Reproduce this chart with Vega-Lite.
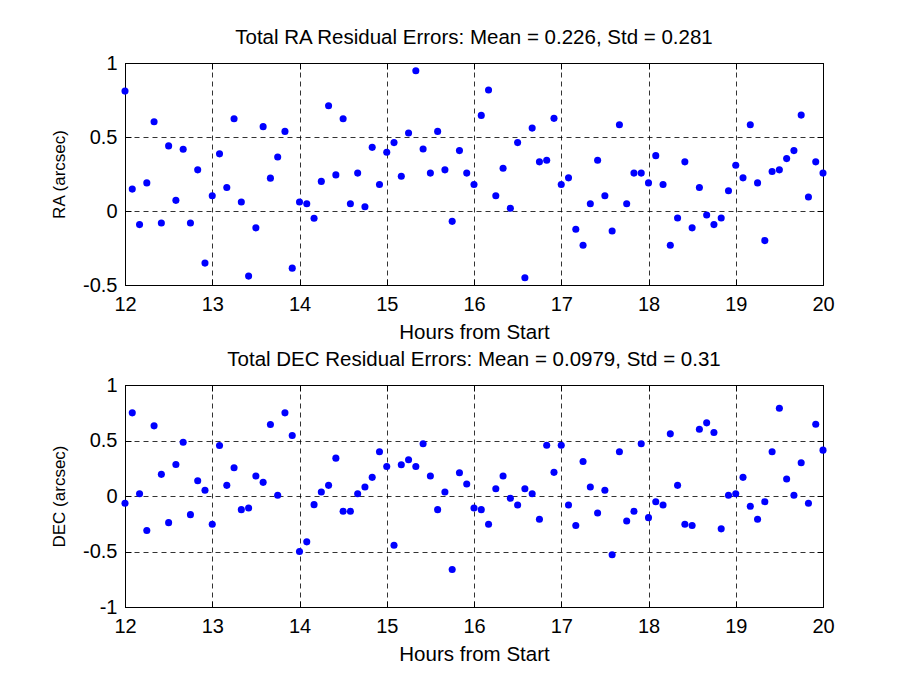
{
  "$schema": "https://vega.github.io/schema/vega-lite/v6.json",
  "padding": {"left": 50, "top": 27, "right": 5, "bottom": 5},
  "background": "white",
  "datasets": {
    "ra": [
      {"t": 12, "v": 0.81}, {"t": 12.0833, "v": 0.148}, {"t": 12.1667, "v": -0.092}, {"t": 12.25, "v": 0.19}, {"t": 12.3333, "v": 0.603}, {"t": 12.4167, "v": -0.081}, {"t": 12.5, "v": 0.44}, {"t": 12.5833, "v": 0.072}, {"t": 12.6667, "v": 0.417}, {"t": 12.75, "v": -0.081}, {"t": 12.8333, "v": 0.278}, {"t": 12.9167, "v": -0.352},
      {"t": 13, "v": 0.103}, {"t": 13.0833, "v": 0.386}, {"t": 13.1667, "v": 0.159}, {"t": 13.25, "v": 0.623}, {"t": 13.3333, "v": 0.061}, {"t": 13.4167, "v": -0.44}, {"t": 13.5, "v": -0.114}, {"t": 13.5833, "v": 0.57}, {"t": 13.6667, "v": 0.222}, {"t": 13.75, "v": 0.365}, {"t": 13.8333, "v": 0.538}, {"t": 13.9167, "v": -0.386},
      {"t": 14, "v": 0.061}, {"t": 14.0833, "v": 0.049}, {"t": 14.1667, "v": -0.049}, {"t": 14.25, "v": 0.2}, {"t": 14.3333, "v": 0.711}, {"t": 14.4167, "v": 0.244}, {"t": 14.5, "v": 0.623}, {"t": 14.5833, "v": 0.049}, {"t": 14.6667, "v": 0.256}, {"t": 14.75, "v": 0.029}, {"t": 14.8333, "v": 0.43}, {"t": 14.9167, "v": 0.179},
      {"t": 15, "v": 0.397}, {"t": 15.0833, "v": 0.462}, {"t": 15.1667, "v": 0.235}, {"t": 15.25, "v": 0.527}, {"t": 15.3333, "v": 0.948}, {"t": 15.4167, "v": 0.419}, {"t": 15.5, "v": 0.256}, {"t": 15.5833, "v": 0.538}, {"t": 15.6667, "v": 0.278}, {"t": 15.75, "v": -0.07}, {"t": 15.8333, "v": 0.408}, {"t": 15.9167, "v": 0.256},
      {"t": 16, "v": 0.179}, {"t": 16.0833, "v": 0.646}, {"t": 16.1667, "v": 0.818}, {"t": 16.25, "v": 0.103}, {"t": 16.3333, "v": 0.289}, {"t": 16.4167, "v": 0.018}, {"t": 16.5, "v": 0.462}, {"t": 16.5833, "v": -0.451}, {"t": 16.6667, "v": 0.56}, {"t": 16.75, "v": 0.332}, {"t": 16.8333, "v": 0.343}, {"t": 16.9167, "v": 0.626},
      {"t": 17, "v": 0.179}, {"t": 17.0833, "v": 0.224}, {"t": 17.1667, "v": -0.123}, {"t": 17.25, "v": -0.231}, {"t": 17.3333, "v": 0.049}, {"t": 17.4167, "v": 0.343}, {"t": 17.5, "v": 0.103}, {"t": 17.5833, "v": -0.135}, {"t": 17.6667, "v": 0.583}, {"t": 17.75, "v": 0.049}, {"t": 17.8333, "v": 0.256}, {"t": 17.9167, "v": 0.256},
      {"t": 18, "v": 0.19}, {"t": 18.0833, "v": 0.374}, {"t": 18.1667, "v": 0.179}, {"t": 18.25, "v": -0.231}, {"t": 18.3333, "v": -0.047}, {"t": 18.4167, "v": 0.332}, {"t": 18.5, "v": -0.114}, {"t": 18.5833, "v": 0.159}, {"t": 18.6667, "v": -0.027}, {"t": 18.75, "v": -0.092}, {"t": 18.8333, "v": -0.047}, {"t": 18.9167, "v": 0.137},
      {"t": 19, "v": 0.309}, {"t": 19.0833, "v": 0.224}, {"t": 19.1667, "v": 0.583}, {"t": 19.25, "v": 0.19}, {"t": 19.3333, "v": -0.2}, {"t": 19.4167, "v": 0.267}, {"t": 19.5, "v": 0.278}, {"t": 19.5833, "v": 0.354}, {"t": 19.6667, "v": 0.408}, {"t": 19.75, "v": 0.648}, {"t": 19.8333, "v": 0.094}, {"t": 19.9167, "v": 0.332},
      {"t": 20, "v": 0.256}
    ],
    "dec": [
      {"t": 12, "v": -0.066}, {"t": 12.0833, "v": 0.749}, {"t": 12.1667, "v": 0.021}, {"t": 12.25, "v": -0.311}, {"t": 12.3333, "v": 0.632}, {"t": 12.4167, "v": 0.195}, {"t": 12.5, "v": -0.24}, {"t": 12.5833, "v": 0.284}, {"t": 12.6667, "v": 0.485}, {"t": 12.75, "v": -0.168}, {"t": 12.8333, "v": 0.138}, {"t": 12.9167, "v": 0.051},
      {"t": 13, "v": -0.254}, {"t": 13.0833, "v": 0.455}, {"t": 13.1667, "v": 0.096}, {"t": 13.25, "v": 0.254}, {"t": 13.3333, "v": -0.123}, {"t": 13.4167, "v": -0.108}, {"t": 13.5, "v": 0.18}, {"t": 13.5833, "v": 0.123}, {"t": 13.6667, "v": 0.644}, {"t": 13.75, "v": 0.006}, {"t": 13.8333, "v": 0.749}, {"t": 13.9167, "v": 0.545},
      {"t": 14, "v": -0.5}, {"t": 14.0833, "v": -0.413}, {"t": 14.1667, "v": -0.078}, {"t": 14.25, "v": 0.036}, {"t": 14.3333, "v": 0.096}, {"t": 14.4167, "v": 0.341}, {"t": 14.5, "v": -0.138}, {"t": 14.5833, "v": -0.138}, {"t": 14.6667, "v": 0.021}, {"t": 14.75, "v": 0.081}, {"t": 14.8333, "v": 0.168}, {"t": 14.9167, "v": 0.398},
      {"t": 15, "v": 0.266}, {"t": 15.0833, "v": -0.443}, {"t": 15.1667, "v": 0.281}, {"t": 15.25, "v": 0.326}, {"t": 15.3333, "v": 0.266}, {"t": 15.4167, "v": 0.47}, {"t": 15.5, "v": 0.18}, {"t": 15.5833, "v": -0.123}, {"t": 15.6667, "v": 0.036}, {"t": 15.75, "v": -0.662}, {"t": 15.8333, "v": 0.21}, {"t": 15.9167, "v": 0.108},
      {"t": 16, "v": -0.108}, {"t": 16.0833, "v": -0.123}, {"t": 16.1667, "v": -0.254}, {"t": 16.25, "v": 0.066}, {"t": 16.3333, "v": 0.18}, {"t": 16.4167, "v": -0.021}, {"t": 16.5, "v": -0.081}, {"t": 16.5833, "v": 0.066}, {"t": 16.6667, "v": 0.021}, {"t": 16.75, "v": -0.21}, {"t": 16.8333, "v": 0.458}, {"t": 16.9167, "v": 0.213},
      {"t": 17, "v": 0.458}, {"t": 17.0833, "v": -0.081}, {"t": 17.1667, "v": -0.266}, {"t": 17.25, "v": 0.311}, {"t": 17.3333, "v": 0.081}, {"t": 17.4167, "v": -0.153}, {"t": 17.5, "v": 0.051}, {"t": 17.5833, "v": -0.53}, {"t": 17.6667, "v": 0.398}, {"t": 17.75, "v": -0.225}, {"t": 17.8333, "v": -0.138}, {"t": 17.9167, "v": 0.47},
      {"t": 18, "v": -0.195}, {"t": 18.0833, "v": -0.051}, {"t": 18.1667, "v": -0.081}, {"t": 18.25, "v": 0.56}, {"t": 18.3333, "v": 0.096}, {"t": 18.4167, "v": -0.254}, {"t": 18.5, "v": -0.266}, {"t": 18.5833, "v": 0.602}, {"t": 18.6667, "v": 0.659}, {"t": 18.75, "v": 0.572}, {"t": 18.8333, "v": -0.296}, {"t": 18.9167, "v": 0.006},
      {"t": 19, "v": 0.021}, {"t": 19.0833, "v": 0.168}, {"t": 19.1667, "v": -0.093}, {"t": 19.25, "v": -0.21}, {"t": 19.3333, "v": -0.051}, {"t": 19.4167, "v": 0.398}, {"t": 19.5, "v": 0.79}, {"t": 19.5833, "v": 0.153}, {"t": 19.6667, "v": 0.006}, {"t": 19.75, "v": 0.299}, {"t": 19.8333, "v": -0.066}, {"t": 19.9167, "v": 0.647},
      {"t": 20, "v": 0.413}
    ]
  },
  "config": {
    "font": "Liberation Sans",
    "view": {"stroke": "#000", "strokeWidth": 1},
    "axis": {
      "labelFont": "Liberation Sans", "titleFont": "Liberation Sans",
      "labelFontSize": 20, "titleFontSize": 20.5,
      "labelColor": "#000", "titleColor": "#000", "titleFontWeight": "normal",
      "domainColor": "#000", "tickColor": "#000", "tickSize": -6,
      "gridColor": "#000", "gridDash": [5, 4], "gridOpacity": 0.8, "gridWidth": 1,
      "labelFlush": false, "labelOverlap": false
    },
    "title": {"font": "Liberation Sans", "fontSize": 20.5, "fontWeight": "normal", "color": "#000", "offset": 5}
  },
  "spacing": 6,
  "vconcat": [
    {
      "width": 698, "height": 222,
      "title": "Total RA Residual Errors: Mean = 0.226, Std = 0.281",
      "data": {"name": "ra"},
      "resolve": {"axis": {"x": "independent", "y": "independent"}},
      "layer": [
        {
          "mark": {"type": "point", "filled": true, "size": 50, "color": "#0000ff", "opacity": 1},
          "encoding": {
            "x": {"field": "t", "type": "quantitative",
              "scale": {"domain": [12, 20], "nice": false, "zero": false},
              "axis": {"values": [12, 13, 14, 15, 16, 17, 18, 19, 20], "title": "Hours from Start", "labelExpr": "'' + datum.value", "grid": true, "labelPadding": 15, "titlePadding": 8}},
            "y": {"field": "v", "type": "quantitative",
              "scale": {"domain": [-0.5, 1], "nice": false, "zero": false},
              "axis": {"values": [-0.5, 0, 0.5, 1], "title": "RA (arcsec)", "titleFontSize": 17, "labelExpr": "'' + datum.value", "grid": true, "labelPadding": 14, "titlePadding": 14}}
          }
        },
        {
          "mark": {"type": "point", "opacity": 0},
          "encoding": {
            "x": {"field": "t", "type": "quantitative",
              "axis": {"orient": "top", "values": [12, 13, 14, 15, 16, 17, 18, 19, 20], "title": null, "labels": false, "grid": false, "domain": false}},
            "y": {"field": "v", "type": "quantitative",
              "axis": {"orient": "right", "values": [-0.5, 0, 0.5, 1], "title": null, "labels": false, "grid": false, "domain": false}}
          }
        }
      ]
    },
    {
      "width": 698, "height": 222,
      "title": "Total DEC Residual Errors: Mean = 0.0979, Std = 0.31",
      "data": {"name": "dec"},
      "resolve": {"axis": {"x": "independent", "y": "independent"}},
      "layer": [
        {
          "mark": {"type": "point", "filled": true, "size": 50, "color": "#0000ff", "opacity": 1},
          "encoding": {
            "x": {"field": "t", "type": "quantitative",
              "scale": {"domain": [12, 20], "nice": false, "zero": false},
              "axis": {"values": [12, 13, 14, 15, 16, 17, 18, 19, 20], "title": "Hours from Start", "labelExpr": "'' + datum.value", "grid": true, "labelPadding": 15, "titlePadding": 8}},
            "y": {"field": "v", "type": "quantitative",
              "scale": {"domain": [-1, 1], "nice": false, "zero": false},
              "axis": {"values": [-1, -0.5, 0, 0.5, 1], "title": "DEC (arcsec)", "titleFontSize": 17, "labelExpr": "'' + datum.value", "grid": true, "labelPadding": 14, "titlePadding": 14}}
          }
        },
        {
          "mark": {"type": "point", "opacity": 0},
          "encoding": {
            "x": {"field": "t", "type": "quantitative",
              "axis": {"orient": "top", "values": [12, 13, 14, 15, 16, 17, 18, 19, 20], "title": null, "labels": false, "grid": false, "domain": false}},
            "y": {"field": "v", "type": "quantitative",
              "axis": {"orient": "right", "values": [-1, -0.5, 0, 0.5, 1], "title": null, "labels": false, "grid": false, "domain": false}}
          }
        }
      ]
    }
  ]
}
